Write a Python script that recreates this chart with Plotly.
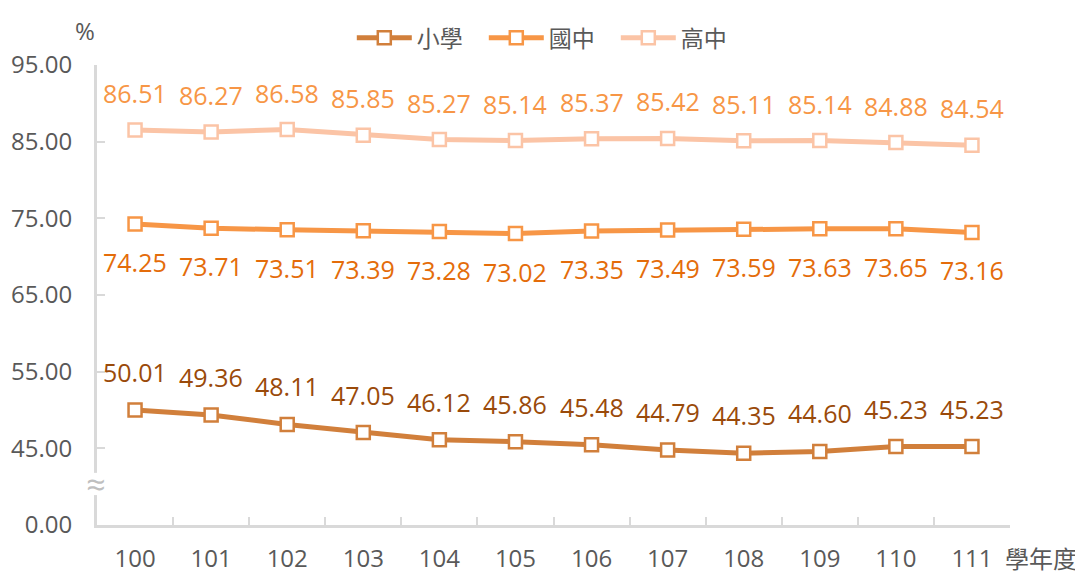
import plotly.graph_objects as go

years = ["100", "101", "102", "103", "104", "105", "106", "107", "108", "109", "110", "111"]
elementary = [50.01, 49.36, 48.11, 47.05, 46.12, 45.86, 45.48, 44.79, 44.35, 44.60, 45.23, 45.23]
junior = [74.25, 73.71, 73.51, 73.39, 73.28, 73.02, 73.35, 73.49, 73.59, 73.63, 73.65, 73.16]
senior = [86.51, 86.27, 86.58, 85.85, 85.27, 85.14, 85.37, 85.42, 85.11, 85.14, 84.88, 84.54]
names = ["小學", "國中", "高中"]
ytick_vals = [35, 45, 55, 65, 75, 85, 95]
ytick_text = ["0.00", "45.00", "55.00", "65.00", "75.00", "85.00", "95.00"]

line_colors = ["#D17F3B", "#F79646", "#FBC4A6"]
label_colors = ["#9A4A0A", "#E46C0A", "#F79646"]
label_shift = [38, -38, 37]

FONT = "Open Sans, Noto Sans CJK TC, sans-serif"
CJK = "Noto Sans CJK TC, sans-serif"
GREY = "#595959"
AX = "#D9D9D9"

fig = go.Figure()
series = [elementary, junior, senior]
for name, vals, lc in zip(names, series, line_colors):
    fig.add_trace(go.Scatter(
        x=years, y=vals, name=name, mode="lines+markers",
        line=dict(color=lc, width=5),
        marker=dict(symbol="square", size=13, color="white", line=dict(color=lc, width=2.5)),
        hoverinfo="skip",
    ))

annotations = []
for vals, tc, sh in zip(series, label_colors, label_shift):
    for i, v in enumerate(vals):
        annotations.append(dict(
            x=i, y=v, xref="x", yref="y", text=f"{v:.2f}", showarrow=False,
            xanchor="center", yanchor="middle",
            yshift=sh, font=dict(family=FONT, size=25, color=tc),
        ))

annotations.append(dict(x=-0.013, y=1.076, xref="paper", yref="paper", text="%",
                        xanchor="center", yanchor="middle",
                        showarrow=False, font=dict(family=FONT, size=24, color=GREY)))
annotations.append(dict(x=0.992, y=-0.07, xref="paper", yref="paper", text="學年度",
                        xanchor="left", yanchor="middle", showarrow=False,
                        font=dict(family=CJK, size=24, color=GREY)))
annotations.append(dict(x=-0.002, y=40.4, xref="paper", yref="y", text="≈",
                        xanchor="center", yanchor="middle",
                        showarrow=False, font=dict(family=FONT, size=34, color="#BFBFBF")))

fig.update_layout(
    width=1075, height=563,
    margin=dict(l=89, r=73, t=57, b=46, autoexpand=False),
    paper_bgcolor="white", plot_bgcolor="white",
    font=dict(family=FONT, size=24, color=GREY),
    showlegend=True,
    legend=dict(orientation="h", xref="container", yref="container",
                x=0.504, xanchor="center", y=0.947, yanchor="middle",
                font=dict(family=CJK, size=23, color=GREY),
                itemwidth=55, entrywidth=62, bgcolor="rgba(0,0,0,0)"),
    xaxis=dict(type="category", range=[-0.5, 11.5], showgrid=False, zeroline=False,
               automargin=False,
               showline=True, linecolor=AX, linewidth=3,
               ticks="inside", tickson="boundaries", ticklen=8, tickwidth=2, tickcolor=AX,
               ticklabelstandoff=10, tickfont=dict(size=24, color=GREY)),
    yaxis=dict(range=[35, 95], showgrid=False, zeroline=False, automargin=False,
               showline=True, linecolor=AX, linewidth=3,
               tickvals=ytick_vals, ticktext=ytick_text,
               ticks="inside", ticklen=8, tickwidth=2, tickcolor=AX,
               ticklabelstandoff=17, tickfont=dict(size=24, color=GREY)),
    annotations=annotations,
    shapes=[dict(type="line", xref="paper", yref="y", x0=0, x1=0, y0=38.9, y1=41.8,
                 line=dict(color="white", width=8), layer="above")],
)

fig.write_html("out.html")
